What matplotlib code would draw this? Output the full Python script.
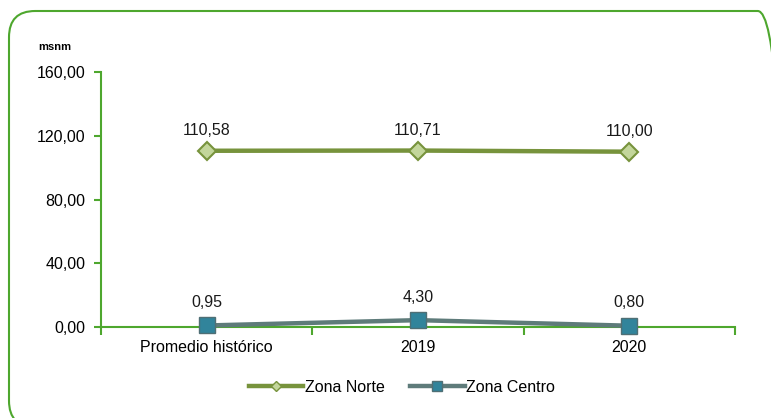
import matplotlib
matplotlib.use("Agg")
import matplotlib.pyplot as plt
from matplotlib.patches import FancyBboxPatch
from matplotlib.lines import Line2D

plt.rcParams['font.family'] = ['Liberation Sans', 'DejaVu Sans']

categories = ["Promedio histórico", "2019", "2020"]
zona_norte = [110.58, 110.71, 110.00]
zona_centro = [0.95, 4.30, 0.80]
norte_labels = ["110,58", "110,71", "110,00"]
centro_labels = ["0,95", "4,30", "0,80"]
yticks = [0, 40, 80, 120, 160]
ytick_labels = ["0,00", "40,00", "80,00", "120,00", "160,00"]

W, H = 771, 418
fig = plt.figure(figsize=(W/100, H/100), dpi=100)
FS = 11.5

# rounded border (extends past right and bottom edges)
box = FancyBboxPatch((9/W, -9/H), (784-9)/W, (407+9)/H,
                     boxstyle="round,pad=0,rounding_size=0.034",
                     transform=fig.transFigure, fill=False,
                     edgecolor="#4EA72E", linewidth=1.5, mutation_aspect=W/H)
fig.patches.append(box)

ax = fig.add_axes([101/W, 1-327/H, (735-101)/W, (327-72)/H])
x = list(range(len(categories)))
c_norte_line = "#77933C"
c_norte_face = "#C3D69B"
c_centro_line = "#5E7B7A"
c_centro_face = "#31849B"

ax.plot(x, zona_norte, color=c_norte_line, lw=3.2, marker="D", ms=9,
        markerfacecolor=c_norte_face, markeredgecolor=c_norte_line, mew=1.5,
        solid_capstyle="butt", zorder=3, clip_on=False)
ax.plot(x, zona_centro, color=c_centro_line, lw=3.2, marker="s", ms=11,
        markerfacecolor=c_centro_face, markeredgecolor="#4F6F75", mew=1.0,
        solid_capstyle="butt", zorder=3, clip_on=False)

for xi, v, lab in zip(x, zona_norte, norte_labels):
    ax.annotate(lab, (xi, v), xytext=(0, 9), textcoords="offset points",
                ha="center", va="bottom", fontsize=FS, color="#1a1a1a")
for xi, v, lab in zip(x, zona_centro, centro_labels):
    ax.annotate(lab, (xi, v), xytext=(0, 11), textcoords="offset points",
                ha="center", va="bottom", fontsize=FS, color="#1a1a1a")

ax.set_xlim(-0.5, len(categories) - 0.5)
ax.set_ylim(0, 160)
ax.set_yticks(yticks)
ax.set_yticklabels(ytick_labels, fontsize=FS)
ax.set_xticks(x)
ax.set_xticklabels(categories, fontsize=FS)
ax.set_xticks([-0.5, 0.5, 1.5, 2.5], minor=True)

for s in ["top", "right"]:
    ax.spines[s].set_visible(False)
for s in ["left", "bottom"]:
    ax.spines[s].set_color("#4EA72E")
    ax.spines[s].set_linewidth(1.5)
ax.tick_params(axis="y", length=5, color="#4EA72E", width=1.5, pad=6)
ax.tick_params(axis="x", which="major", length=0, pad=9)
ax.tick_params(axis="x", which="minor", length=6, color="#4EA72E", width=1.5)
ax.set_facecolor("none")

fig.text(55/W, 1-47/H, "msnm", fontsize=8, fontweight="bold", ha="center", va="center")

handles = [
    Line2D([], [], color=c_norte_line, lw=3.2, marker="D", ms=5,
           markerfacecolor=c_norte_face, markeredgecolor=c_norte_line),
    Line2D([], [], color=c_centro_line, lw=3.2, marker="s", ms=7,
           markerfacecolor=c_centro_face, markeredgecolor="#4F6F75"),
]
fig.legend(handles, ["Zona Norte", "Zona Centro"], loc="center",
           bbox_to_anchor=(402/W, 1-387/H), ncol=2, frameon=False,
           fontsize=FS, handlelength=3.4, handletextpad=0.1, columnspacing=1.6)

fig.savefig("out.png", dpi=100)
